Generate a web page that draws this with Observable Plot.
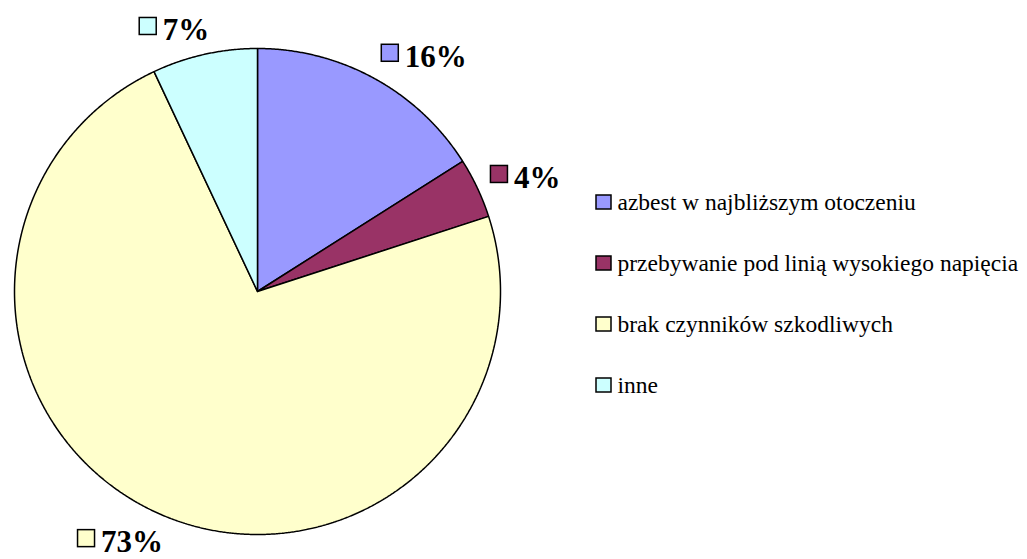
<!DOCTYPE html>
<html><head><meta charset="utf-8">
<script src="https://cdn.jsdelivr.net/npm/d3@7"></script>
<script src="https://cdn.jsdelivr.net/npm/@observablehq/plot@0.6"></script>
<style>html,body{margin:0;padding:0;background:#fff;overflow:hidden}#chart{width:1027px;height:559px}</style>
</head><body><div id="chart"></div>
<script>
const categories = ["azbest w najbliższym otoczeniu", "przebywanie pod linią wysokiego napięcia", "brak czynników szkodliwych", "inne"];
const values = [16, 4, 73, 7];
const labels = ["16%", "4%", "73%", "7%"];
const colors = ["#9999FF", "#993366", "#FFFFCC", "#CCFFFF"];

const W = 1027, H = 559, CX = 257, CY = 291, R = 243;
const FONT = '"Liberation Serif", "Times New Roman", serif';
const LF = 31, LEGF = 23.5;

const arcs = d3.pie().sort(null).value(d => d)(values);

// slice outlines (data units = pixels, origin at pie centre, y up)
const slicePts = [];
arcs.forEach((p, i) => {
  const cat = categories[i];
  slicePts.push({cat, x: 0, y: 0});
  const n = Math.max(2, Math.ceil((p.endAngle - p.startAngle) / 0.005));
  for (let k = 0; k <= n; k++) {
    const a = p.startAngle + (p.endAngle - p.startAngle) * k / n;
    slicePts.push({cat, x: R * Math.sin(a), y: R * Math.cos(a)});
  }
  slicePts.push({cat, x: 0, y: 0});
});

// data labels, placed outside along the mid angle
const ctx = document.createElement("canvas").getContext("2d");
ctx.font = `bold ${LF}px ${FONT}`;
const labelData = arcs.map((p, i) => {
  const m = (p.startAngle + p.endAngle) / 2, d = R + 15;
  const s = Math.sin(m), c = Math.cos(m);
  const ax = d * s, ayDown = -d * c;
  const tw = ctx.measureText(labels[i]).width;
  const left = s >= 0 ? ax : ax + 8 - tw - 23;
  const top = ayDown - (1 + c) / 2 * 22 + (c < 0 ? -3 * c : 0);
  const base = top + 22;
  return {cat: categories[i], label: labels[i],
    sx1: left, sx2: left + 17, sy1: -(base - 5), sy2: -(base - 22),
    tx: left + 23, ty: -(base - 0.32 * LF)};
});

// legend
const legX = 596 - CX, legY0 = 209 - CY, legStep = 61;
const legendData = categories.map((cat, i) => {
  const base = legY0 + i * legStep;
  return {cat, x1: legX, x2: legX + 15, y1: -base, y2: -(base - 14), tx: legX + 21, ty: -(base - 0.32 * LEGF)};
});

const chart = Plot.plot({
  width: W, height: H, margin: 0,
  x: {domain: [-CX, W - CX], axis: null},
  y: {domain: [-(H - CY), CY], axis: null},
  color: {domain: categories, range: colors},
  style: {background: "white", overflow: "hidden"},
  marks: [
    Plot.line(slicePts, {x: "x", y: "y", z: "cat", fill: "cat", stroke: "black", strokeWidth: 1.5, strokeLinejoin: "miter"}),
    Plot.rect(labelData, {x1: "sx1", x2: "sx2", y1: "sy1", y2: "sy2", fill: "cat", stroke: "black", strokeWidth: 1.5}),
    Plot.text(labelData, {x: "tx", y: "ty", text: "label", textAnchor: "start", lineAnchor: "middle",
      fontFamily: FONT, fontSize: LF, fontWeight: "bold", fill: "black"}),
    Plot.rect(legendData, {x1: "x1", x2: "x2", y1: "y1", y2: "y2", fill: "cat", stroke: "black", strokeWidth: 1.5}),
    Plot.text(legendData, {x: "tx", y: "ty", text: "cat", textAnchor: "start", lineAnchor: "middle",
      fontFamily: FONT, fontSize: LEGF, fill: "black"})
  ]
});
document.getElementById("chart").appendChild(chart);
</script>
</body></html>
